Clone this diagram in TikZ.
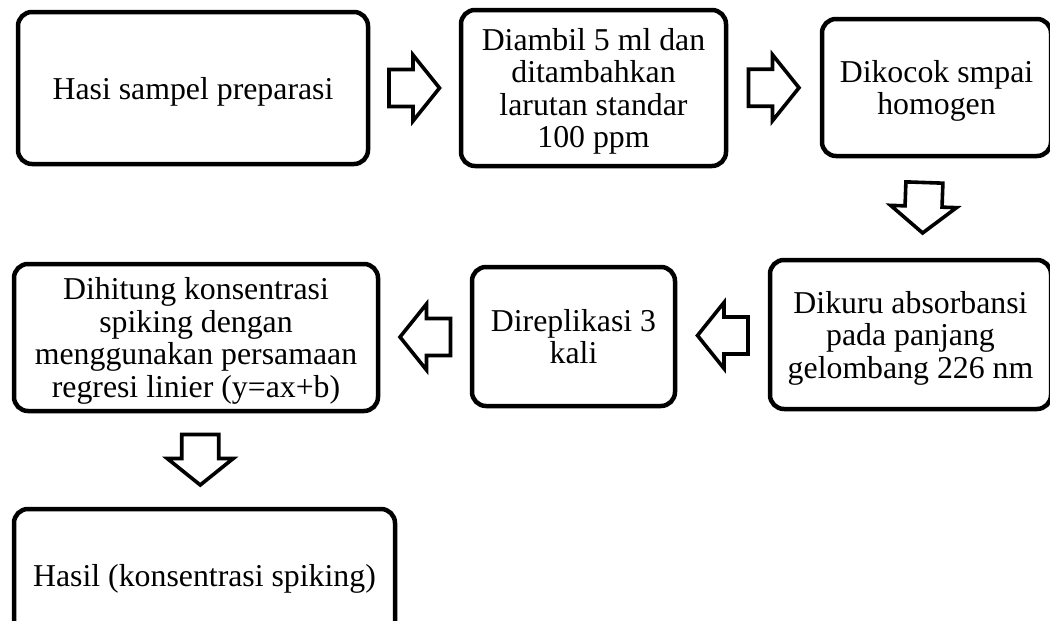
\documentclass[tikz,border=0pt]{standalone}
\usepackage{fontspec}
\setmainfont{Liberation Serif}
\usetikzlibrary{calc}
\begin{document}
\begin{tikzpicture}[x=1pt,y=-1pt,
  box/.style={draw, line width=4.5pt, rounded corners=14pt, align=center, inner sep=0pt,
    text depth=0pt, font=\fontsize{31.8}{32.5}\selectfont},
  blockarrow/.pic={\draw[line width=3.6pt, miter limit=10, fill=white]
    (-25.5,-18.5) -- (-1.5,-18.5) -- (-1.5,-33) -- (25,0) -- (-1.5,33) -- (-1.5,18.5) -- (-25.5,18.5) -- cycle;}]
\useasboundingbox (0,0) rectangle (1050,621);
\clip (0,0) rectangle (1050,621);
\node[box, minimum width=350pt, minimum height=152pt] (b1) at (193,88) {Hasi sampel preparasi};
\node[box, minimum width=265pt, minimum height=156pt] (b2) at (593.5,88) {Diambil 5 ml dan\\ditambahkan\\larutan standar\\100 ppm};
\node[box, minimum width=229pt, minimum height=137pt] (b3) at (936.5,87.5) {Dikocok smpai\\homogen};
\node[box, minimum width=281pt, minimum height=149pt] (b4) at (910.5,334.5) {Dikuru absorbansi\\pada panjang\\gelombang 226 nm};
\node[box, minimum width=203pt, minimum height=139pt] (b5) at (573.5,336.5) {Direplikasi 3\\kali};
\node[box, minimum width=364pt, minimum height=147pt] (b6) at (196,337.5) {Dihitung konsentrasi\\spiking dengan\\menggunakan persamaan\\regresi linier (y=ax+b)};
\node[box, minimum width=381pt, minimum height=132pt] (b7) at (204.5,575) {Hasil (konsentrasi spiking)};
\pic at ($(b1.east)!0.5!(b2.west)$) {blockarrow};
\pic at ($(b2.east)!0.5!(b3.west)$) {blockarrow};
\pic[rotate=-92] at ($(b3.south)!0.5!(b4.north)$) {blockarrow};
\pic[rotate=180] at ($(b4.west)!0.5!(b5.east)$) {blockarrow};
\pic[rotate=180] at ($(b5.west)!0.5!(b6.east)$) {blockarrow};
\pic[rotate=-90] at ($(b6.south)!0.5!(b7.north)$) {blockarrow};
\end{tikzpicture}
\end{document}
